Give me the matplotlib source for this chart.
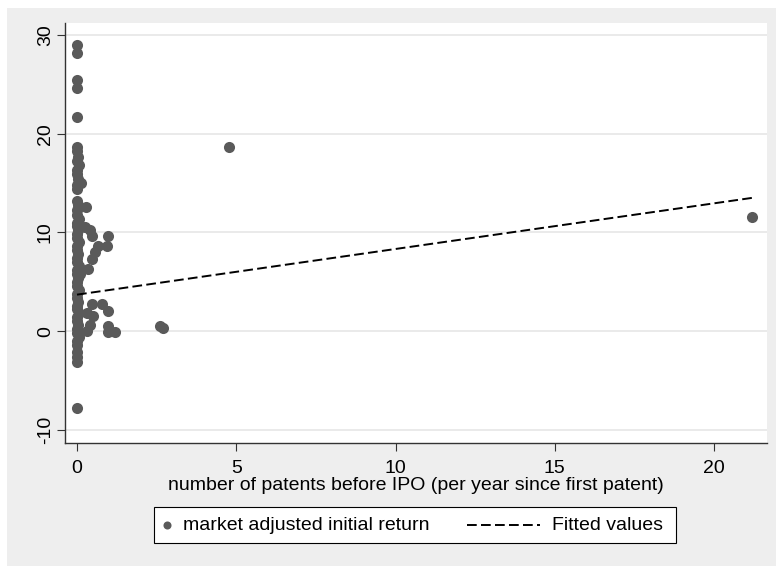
import matplotlib
matplotlib.use("Agg")
import matplotlib.pyplot as plt
from matplotlib.lines import Line2D
from matplotlib.patches import Rectangle

plt.rcParams["font.family"] = ["Liberation Sans", "DejaVu Sans"]
plt.rcParams["axes.unicode_minus"] = False

# firms with (almost) no patents before IPO: the vertical column at x ~ 0
col_x = [0.0, 0.0, 0.0, 0.0, 0.0,
         0.0, 0.0, 0.03, 0.0, 0.05, 0.0, 0.0, 0.03, 0.0, 0.0,
         0.0, 0.04, 0.0, 0.0, 0.06, 0.0, 0.0, 0.03, 0.0, 0.0,
         0.05, 0.0, 0.0, 0.04, 0.0, 0.0, 0.06, 0.0, 0.0, 0.03,
         0.0, 0.0, 0.05, 0.0, 0.0, 0.04, 0.0, 0.0, 0.06, 0.0,
         0.0, 0.03, 0.0, 0.0, 0.05, 0.0, 0.0, 0.0, 0.0, 0.0,
         0.0]
col_y = [29.0, 28.2, 25.4, 24.6, 21.7,
         18.6, 18.2, 17.6, 17.2, 16.8, 16.3, 15.9, 15.4, 14.8, 14.4,
         13.2, 12.8, 12.3, 11.8, 11.4, 11.0, 10.6, 10.2, 9.8, 9.4,
         9.0, 8.6, 8.2, 7.8, 7.4, 7.0, 6.6, 6.2, 5.8, 5.4,
         5.0, 4.6, 4.2, 3.8, 3.4, 3.0, 2.6, 2.2, 1.8, 1.4,
         1.0, 0.6, 0.2, -0.2, -0.6, -1.0, -1.4, -2.1, -2.6, -3.1,
         -7.8]

# firms with some patenting before IPO
pat_x = [0.13, 0.28, 0.25, 0.40, 0.47, 0.97, 0.94, 0.66, 0.56, 0.47,
         0.35, 0.10, 0.47, 0.78, 0.97, 0.31, 0.50, 0.40, 0.31, 0.97,
         0.97, 1.19, 2.60, 2.70, 4.77, 21.2]
pat_y = [15.0, 12.6, 10.5, 10.2, 9.6, 9.6, 8.6, 8.6, 8.0, 7.3,
         6.3, 5.8, 2.8, 2.8, 2.0, 1.8, 1.5, 0.6, 0.0, 0.5,
         -0.1, -0.1, 0.5, 0.3, 18.6, 11.6]

# linear fit (end points)
fit_x = [0.0, 21.2]
fit_y = [3.7, 13.5]

xticks = [0, 5, 10, 15, 20]
yticks = [-10, 0, 10, 20, 30]

W, H = 776, 567
dot_color = "#5a5a5a"
axis_color = "#333333"
fs = 14


def fx(px):
    return px / W


def fy(py):
    return 1 - py / H


fig = plt.figure(figsize=(W / 100, H / 100), dpi=100, facecolor="white")
fig.patches.append(Rectangle((fx(7), fy(566)), 1 - fx(7), (566 - 8) / H,
                             transform=fig.transFigure, facecolor="#eeeeee",
                             edgecolor="none", zorder=-10))

ax = fig.add_axes([fx(65), fy(443), 702 / W, 420 / H])
ax.set_facecolor("white")

ax.plot(col_x + pat_x, col_y + pat_y, "o", ms=8, color=dot_color,
        mec="none", zorder=3)
ax.plot(fit_x, fit_y, color="black", lw=1.4, ls=(0, (5, 2.2)), zorder=4)

ax.set_xlim(-0.377, 21.66)
ax.set_ylim(-11.32, 31.2)
ax.set_xticks(xticks)
ax.set_yticks(yticks)
ax.yaxis.grid(True, color="#e8e8e8", lw=1.3)
ax.set_axisbelow(True)

for s in ("top", "right"):
    ax.spines[s].set_visible(False)
for s in ("left", "bottom"):
    ax.spines[s].set_color(axis_color)
    ax.spines[s].set_linewidth(1.0)

ax.tick_params(axis="both", length=6, width=0.8, color=axis_color,
               labelsize=fs, labelcolor="black")
ax.tick_params(axis="x", pad=6)
ax.tick_params(axis="y", pad=2)
for lab in ax.get_yticklabels():
    lab.set_rotation(90)
    lab.set_va("center")

ax.set_xlabel("number of patents before IPO (per year since first patent)",
              fontsize=fs, labelpad=0)

# legend box below the plot
fig.patches.append(Rectangle((fx(154), fy(543)), (676 - 154) / W, 36 / H,
                             transform=fig.transFigure, facecolor="white",
                             edgecolor="black", lw=0.8))
ly = fy(525)
fig.add_artist(Line2D([fx(167)], [ly], marker="o", ms=5.8, color=dot_color,
                      mec="none", transform=fig.transFigure))
fig.text(fx(183), ly, "market adjusted initial return", fontsize=fs,
         va="center", ha="left")
fig.add_artist(Line2D([fx(467), fx(540)], [ly, ly], color="black", lw=1.4,
                      ls=(0, (5, 2.2)), transform=fig.transFigure))
fig.text(fx(552), ly, "Fitted values", fontsize=fs, va="center", ha="left")

fig.savefig("out.png", dpi=100, facecolor=fig.get_facecolor())
